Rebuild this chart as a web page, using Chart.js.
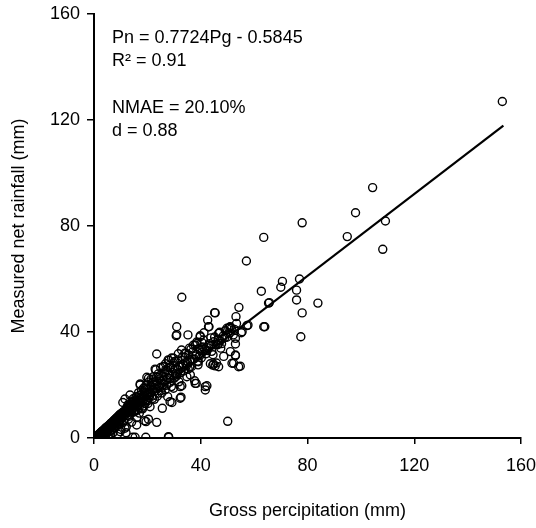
<!DOCTYPE html>
<html>
<head>
<meta charset="utf-8">
<script src="https://cdn.jsdelivr.net/npm/chart.js@4.4.1/dist/chart.umd.min.js"></script>
<style>
  html, body { margin: 0; padding: 0; background: #fff; }
  #wrap { width: 536px; height: 528px; }
</style>
</head>
<body>
<div id="wrap"><canvas id="rainChart"></canvas></div>
<script>
// gross precipitation (x) and measured net rainfall (y), mm
var grossRain = [
  0.3, 0.5, 0.6, 0.8, 1.0, 1.1, 1.2, 1.3, 1.5, 1.6,
  1.7, 1.8, 2.0, 2.1, 2.2, 2.3, 2.4, 2.5, 2.6, 2.7,
  2.8, 2.9, 3.0, 3.1, 3.2, 3.3, 3.4, 3.5, 3.6, 3.7,
  3.8, 3.9, 4.0, 4.1, 4.2, 4.3, 4.4, 4.5, 4.6, 4.7,
  4.8, 4.9, 5.0, 5.1, 5.2, 5.3, 5.4, 5.5, 5.6, 5.7,
  5.8, 5.9, 6.0, 6.1, 6.2, 6.3, 6.4, 6.5, 6.6, 6.7,
  6.8, 6.9, 7.0, 7.1, 7.2, 7.3, 7.4, 7.5, 7.6, 7.7,
  7.8, 7.9, 8.0, 8.1, 8.2, 8.3, 8.4, 8.5, 8.6, 8.7,
  8.8, 8.9, 9.0, 9.1, 9.2, 9.3, 9.4, 9.5, 9.6, 9.7,
  9.8, 9.9, 10.0, 10.1, 10.2, 10.3, 10.4, 10.5, 10.6, 10.7,
  10.8, 10.9, 11.0, 11.1, 11.2, 11.4, 11.6, 11.7, 11.8, 12.0,
  12.1, 12.3, 12.4, 12.6, 12.7, 12.9, 13.0, 13.2, 13.3, 13.5,
  13.6, 13.8, 14.0, 14.1, 14.3, 14.5, 14.6, 14.8, 14.9, 15.1,
  15.3, 15.4, 15.6, 15.7, 15.9, 16.0, 9.8, 11.6, 13.5, 20.4,
  16.2, 16.4, 16.6, 16.8, 17.0, 17.1, 17.3, 17.5, 17.7, 17.9,
  18.1, 18.3, 18.5, 18.7, 18.9, 19.0, 19.2, 19.4, 19.6, 19.8,
  20.0, 20.2, 20.4, 20.6, 20.8, 21.0, 21.2, 21.5, 21.7, 22.0,
  12.2, 13.9, 15.0, 16.5, 17.6, 18.8, 19.9, 21.3, 22.8, 24.4,
  25.5, 26.9, 28.4, 29.6, 12.8, 14.4, 16.9, 19.3, 21.8, 23.4,
  26.0, 27.8,
  22.3, 22.6, 22.9, 23.1, 23.5, 23.5, 23.8, 24.0, 24.3, 24.6,
  24.9, 25.2, 25.6, 25.8, 26.1, 26.4, 26.7, 27.0, 27.3, 27.6,
  27.9, 28.0, 28.2, 28.5, 28.8, 29.0, 29.2, 29.5, 29.8, 30.1,
  30.4, 30.8, 31.0, 31.2, 31.5, 31.8, 32.1, 32.6, 32.9, 32.9,
  33.2, 33.6, 34.0, 34.3, 34.8, 35.2, 35.5, 35.9, 36.3, 36.8,
  37.2, 37.7, 38.1, 38.5, 39.0, 39.4, 39.8, 39.8, 40.2, 40.4,
  40.8, 41.2, 41.7, 42.0, 42.3, 42.6, 43.1, 43.3, 43.6, 44.1,
  44.5, 44.8, 45.2, 45.4, 31.0, 47.1, 51.5, 55.2, 46.7, 37.9,
  30.6, 31.4, 32.4, 33.0, 34.6, 35.0, 36.0, 36.6, 37.5, 38.3,
  38.8, 39.6, 40.6, 41.5, 42.4, 43.0, 44.0, 44.8, 45.7, 46.5,
  47.2, 48.4, 49.8, 50.8, 52.6, 53.0, 46.7, 41.7, 52.3, 51.1,
  45.9, 46.4, 46.9, 47.5, 48.0, 48.6, 49.2, 50.1, 50.5, 51.0,
  51.1, 51.7, 52.2, 53.0, 53.0, 53.4, 54.3, 54.8, 55.5, 57.3,
  53.2, 57.7, 64.0, 65.7,
  12.5, 13.1, 13.7, 14.2, 14.7, 15.2, 15.8, 16.3, 16.7, 17.2,
  17.8, 18.2, 18.6, 19.1, 19.5, 20.1, 20.5, 20.9, 21.4, 21.9,
  22.2, 22.7, 23.2, 23.7, 24.1, 24.5, 25.0, 25.4, 25.9, 26.3,
  26.8, 27.2, 27.7, 28.1, 28.5, 28.6, 29.1, 29.8, 30.3, 30.9,
  31.6, 32.3, 32.8, 33.4, 34.1, 34.5, 35.3, 35.8, 36.1, 37.0,
  37.9, 38.6, 39.1, 39.8, 40.5, 41.0, 42.1, 42.9, 43.8, 44.6,
  45.4, 46.7, 47.8, 49.0, 49.8, 53.0, 54.2, 45.2, 38.3, 19.5,
  16.0, 12.0, 32.3, 29.8, 20.4, 17.3,
  57.1, 62.7, 63.6, 63.6, 65.4, 70.0, 70.6, 75.9, 75.9, 77.0,
  77.5, 78.0, 78.0, 83.9,
  94.9, 98.0, 104.4, 108.2, 109.2, 153.0
];
var netRain = [
  0.1, 0.2, 0.0, 0.4, 0.6, 0.2, 0.9, 0.0, 1.1, 0.5,
  1.3, 0.2, 1.5, 0.8, 1.8, 0.1, 1.2, 2.0, 0.6, 1.7,
  2.3, 1.0, 2.5, 0.3, 1.9, 2.8, 1.4, 2.6, 0.8, 3.0,
  2.2, 3.3, 1.6, 3.0, 3.6, 0.2, 2.8, 3.9, 3.4, 1.9,
  4.1, 3.7, 2.6, 4.4, 3.1, 4.0, 0.4, 4.7, 3.8, 2.4,
  5.0, 4.3, 3.5, 5.3, 4.8, 1.2, 5.6, 4.1, 5.1, 3.0,
  5.9, 5.4, 4.6, 6.2, 2.1, 5.8, 6.6, 5.0, 6.3, 3.8,
  6.9, 6.0, 5.3, 7.2, 6.5, 4.4, 7.5, 6.8, 5.8, 7.8,
  7.0, 1.5, 8.1, 6.2, 7.4, 8.4, 5.1, 7.9, 8.7, 6.7,
  8.2, 9.0, 7.0, 3.2, 8.6, 9.3, 7.6, 8.9, 5.6, 9.6,
  13.4, 8.1, 9.2, 10.0, 6.3, 9.5, 14.7, 8.8, 10.3, 9.9,
  4.2, 10.7, 8.4, 11.0, 9.6, 7.1, 11.4, 10.1, 12.0, 8.9,
  11.7, 10.5, 12.3, 6.0, 11.2, 0.3, 12.7, 9.8, 13.1, 11.6,
  12.4, 0.3, 13.5, 10.4, 12.9, 7.7, 2.4, 3.7, 16.2, 7.1,
  13.8, 11.9, 14.3, 12.6, 9.4, 14.8, 20.4, 13.2, 15.3, 11.3,
  15.0, 13.9, 16.1, 12.1, 6.5, 15.6, 17.0, 0.3, 14.4, 22.9,
  16.5, 13.0, 17.4, 15.2, 18.6, 11.8, 17.0, 19.3, 15.8, 18.1,
  11.3, 12.8, 14.0, 15.2, 16.4, 17.2, 18.3, 19.8, 21.2, 22.9,
  19.1, 25.8, 27.5, 26.2, 12.6, 13.7, 16.0, 18.9, 21.0, 23.0,
  27.0, 29.5,
  20.1, 14.6, 26.0, 18.8, 31.7, 5.9, 20.7, 16.9, 19.6, 22.3,
  17.8, 21.5, 11.2, 23.4, 20.3, 24.6, 18.2, 22.1, 25.5, 15.6,
  0.5, 0.3, 23.8, 21.0, 26.9, 19.4, 13.4, 24.7, 28.3, 22.6,
  26.1, 38.6, 42.0, 24.0, 29.5, 21.2, 27.4, 15.4, 19.7, 53.1,
  30.6, 25.3, 32.0, 28.4, 23.1, 38.9, 31.3, 26.8, 33.5, 29.7,
  35.0, 21.6, 30.9, 36.2, 27.6, 33.8, 33.0, 38.6, 30.2, 36.1,
  34.4, 39.7, 18.1, 31.8, 19.7, 44.5, 42.0, 35.6, 28.0, 32.7,
  27.5, 27.9, 38.1, 47.2, 39.0, 39.9, 41.4, 39.7, 35.7, 20.6,
  24.2, 25.8, 24.6, 26.9, 27.2, 28.8, 29.1, 27.0, 29.8, 31.5,
  29.0, 31.0, 32.4, 33.6, 33.0, 34.9, 35.0, 36.3, 35.4, 37.2,
  36.6, 38.5, 38.0, 39.6, 41.0, 37.6, 26.9, 19.4, 28.2, 32.6,
  28.3, 35.2, 39.6, 33.9, 37.4, 30.8, 40.5, 6.3, 41.5, 42.0,
  41.8, 28.2, 38.9, 35.5, 31.1, 43.2, 49.3, 27.1, 40.1, 42.4,
  45.8, 42.6, 42.0, 51.1,
  11.8, 8.2, 13.9, 10.2, 14.8, 9.9, 15.6, 10.6, 17.1, 12.2,
  17.9, 11.0, 18.8, 13.0, 20.0, 14.0, 21.1, 16.3, 22.2, 14.9,
  23.1, 17.6, 25.7, 15.8, 24.2, 19.0, 26.6, 17.0, 26.9, 21.8,
  28.0, 19.9, 24.0, 29.3, 13.7, 22.5, 30.2, 18.8, 28.9, 23.3,
  31.8, 15.0, 33.2, 27.8, 30.4, 32.0, 26.0, 33.9, 23.8, 32.5,
  35.1, 35.7, 28.8, 38.2, 33.5, 37.0, 34.2, 42.0, 37.8, 31.4,
  27.2, 39.5, 35.6, 37.9, 41.4, 31.3, 26.9, 47.3, 20.6, 6.2,
  4.9, 2.0, 19.4, 30.1, 22.5, 20.0,
  66.8, 55.4, 42.0, 75.7, 50.9, 56.9, 59.1, 55.8, 52.1, 60.0,
  38.2, 47.2, 81.2, 50.9,
  76.0, 85.0, 94.5, 71.2, 81.9, 127.0
];

// fitted line Pn = 0.7724Pg - 0.5845, end points
var fitX = [0.8, 153.4];
var fitY = [0.0, 117.9];

var axisTicks = [0, 40, 80, 120, 160];

var statLines = [
  'Pn = 0.7724Pg - 0.5845',
  'R\u00b2 = 0.91',
  '',
  'NMAE = 20.10%',
  'd = 0.88'
];

var FONT = '"Liberation Sans", Arial, sans-serif';
Chart.defaults.font.family = FONT;
Chart.defaults.font.size = 18;
Chart.defaults.color = '#000';

var points = [];
for (var i = 0; i < grossRain.length; i++) {
  points.push({ x: grossRain[i], y: netRain[i] });
}
var fitPoints = [];
for (var k = 0; k < fitX.length; k++) {
  fitPoints.push({ x: fitX[k], y: fitY[k] });
}

// text block in the upper left of the plot
var statsText = {
  id: 'statsText',
  afterDraw: function (chart) {
    var ctx = chart.ctx;
    var left = chart.chartArea.left + 18;
    var ys = [38, 61, 84, 108, 131];
    ctx.save();
    ctx.fillStyle = '#000';
    ctx.font = '18px ' + FONT;
    ctx.textAlign = 'left';
    ctx.textBaseline = 'middle';
    for (var n = 0; n < statLines.length; n++) {
      ctx.fillText(statLines[n], left, ys[n]);
    }
    ctx.restore();
  }
};

// keep the plot area where the figure has it
function noEdgePadding(scale) {
  scale.paddingLeft = 0;
  scale.paddingRight = 0;
  scale.paddingTop = 0;
  scale.paddingBottom = 0;
}

var config = {
  type: 'scatter',
  data: {
    datasets: [
      {
        data: points,
        pointStyle: 'circle',
        pointRadius: 4,
        pointBorderWidth: 1.4,
        borderColor: '#000',
        backgroundColor: 'rgba(0,0,0,0)',
        order: 2
      },
      {
        type: 'line',
        data: fitPoints,
        borderColor: '#000',
        borderWidth: 2.2,
        pointRadius: 0,
        fill: false,
        order: 1
      }
    ]
  },
  options: {
    responsive: true,
    maintainAspectRatio: false,
    animation: false,
    layout: {
      padding: { left: 0, right: 15, top: 14, bottom: 0 }
    },
    plugins: {
      legend: { display: false },
      tooltip: { enabled: false }
    },
    scales: {
      x: {
        type: 'linear',
        min: 0,
        max: 160,
        afterBuildTicks: function (scale) {
          scale.ticks = axisTicks.map(function (v) { return { value: v }; });
        },
        afterFit: function (scale) { scale.height = 90; noEdgePadding(scale); },
        ticks: { padding: 11, color: '#000', font: { size: 18 } },
        grid: { drawOnChartArea: false, drawTicks: true, tickLength: 6, color: '#000', lineWidth: 1.5 },
        border: { display: true, color: '#000', width: 2 },
        title: {
          display: true,
          text: 'Gross percipitation (mm)',
          color: '#000',
          font: { size: 18 },
          padding: { top: 0, bottom: 6 }
        }
      },
      y: {
        type: 'linear',
        min: 0,
        max: 160,
        afterBuildTicks: function (scale) {
          scale.ticks = axisTicks.map(function (v) { return { value: v }; });
        },
        afterFit: function (scale) { scale.width = 94; noEdgePadding(scale); },
        ticks: { padding: 7, color: '#000', font: { size: 18 } },
        grid: { drawOnChartArea: false, drawTicks: true, tickLength: 7, color: '#000', lineWidth: 1.5 },
        border: { display: true, color: '#000', width: 2 },
        title: {
          display: true,
          text: 'Measured net rainfall (mm)',
          color: '#000',
          font: { size: 18 },
          padding: { top: 8, bottom: 0 }
        }
      }
    }
  },
  plugins: [statsText]
};

new Chart(document.getElementById('rainChart').getContext('2d'), config);
</script>
</body>
</html>
